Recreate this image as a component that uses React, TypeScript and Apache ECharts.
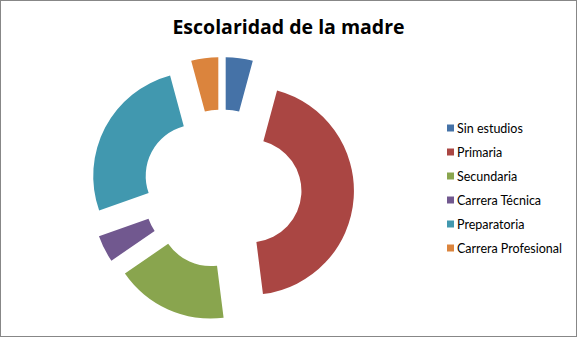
import React, { useEffect, useRef } from "react";
import * as echarts from "echarts";

const categories = [
  "Sin estudios",
  "Primaria",
  "Secundaria",
  "Carrera Técnica",
  "Preparatoria",
  "Carrera Profesional",
];
const values = [4.2, 43.8, 17.4, 4.2, 26.2, 4.2];
const colors = ["#4572A7", "#AA4643", "#89A54E", "#71588F", "#4198AF", "#DB843D"];
const titleText = "Escolaridad de la madre";

export default function App() {
  const ref = useRef<HTMLDivElement>(null);
  useEffect(() => {
    if (!ref.current) return;
    const chart = echarts.init(ref.current, undefined, { renderer: "svg" });
    chart.setOption({
      animation: false,
      backgroundColor: "#ffffff",
      title: {
        text: titleText,
        left: "center",
        top: 10,
        textStyle: { fontFamily: "Open Sans", fontSize: 19.5, fontWeight: "bold", color: "#000" },
      },
      legend: {
        orient: "vertical",
        left: 446,
        top: 120,
        padding: 0,
        itemWidth: 7,
        itemHeight: 7,
        itemGap: 10,
        icon: "rect",
        selectedMode: false,
        textStyle: { fontFamily: "Lato", fontSize: 12.5, color: "#000", lineHeight: 14, padding: [0, 0, 0, -2] },
        data: categories,
      },
      series: [
        {
          type: "pie",
          center: [221, 188],
          radius: [51.5, 104],
          startAngle: 90,
          clockwise: true,
          selectedMode: "multiple",
          selectedOffset: 28,
          label: { show: false },
          labelLine: { show: false },
          emphasis: { disabled: true },
          data: categories.map((name, i) => ({
            name,
            value: values[i],
            selected: true,
            itemStyle: { color: colors[i] },
          })),
        },
      ],
    });
    return () => chart.dispose();
  }, []);
  return (
    <div
      style={{
        position: "fixed",
        left: 0,
        top: 0,
        width: 577,
        height: 337,
        boxSizing: "border-box",
        border: "1px solid #878787",
        background: "#fff",
      }}
    >
      <div ref={ref} style={{ width: 575, height: 335 }} />
    </div>
  );
}
